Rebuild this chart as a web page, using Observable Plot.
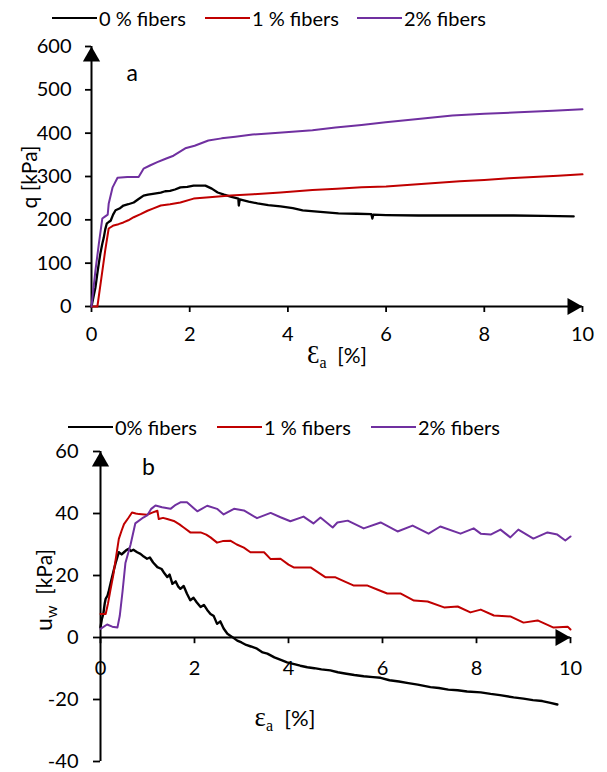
<!DOCTYPE html>
<html>
<head>
<meta charset="utf-8">
<script src="https://cdn.jsdelivr.net/npm/d3@7"></script>
<script src="https://cdn.jsdelivr.net/npm/@observablehq/plot@0.6"></script>
<style>
  html, body { margin: 0; padding: 0; background: #fff; }
  #root { position: relative; width: 607px; height: 772px; font-family: Lato, "Noto Sans", sans-serif; color: #000; }
  .legend-item { position: absolute; display: flex; align-items: center; font-size: 20px; white-space: nowrap; }
  .legend-item .sw { width: 45px; height: 2.5px; margin-right: 2px; }
  .abs { position: absolute; white-space: nowrap; }
  .serif { font-family: "Liberation Serif", "DejaVu Serif", serif; }
</style>
</head>
<body>
<div id="root"></div>
<script>
// ---------- Data ----------
const seriesNamesA = ["0 % fibers", "1 % fibers", "2% fibers"];
const seriesNamesB = ["0% fibers", "1 % fibers", "2% fibers"];
const seriesColors = ["#000000", "#C00000", "#7030A0"];

const xTicks = [0, 2, 4, 6, 8, 10];
const yTicksA = [0, 100, 200, 300, 400, 500, 600];
const yTicksB = [-40, -20, 0, 20, 40, 60];

// Panel a: deviator stress q [kPa] vs axial strain [%]
const a0x = [0, 0.04, 0.08, 0.13, 0.18, 0.22, 0.25, 0.28, 0.31, 0.35, 0.39, 0.44, 0.49, 0.57, 0.65, 0.75, 0.86, 0.96, 1.06, 1.15, 1.25, 1.41, 1.5, 1.6, 1.7, 1.81, 1.95, 2.08, 2.2, 2.32, 2.45, 2.57, 2.7, 2.85, 2.99, 3.0, 3.02, 3.2, 3.38, 3.6, 3.85, 4.1, 4.3, 4.6, 5.03, 5.4, 5.7, 5.72, 5.74, 6.0, 6.66, 7.3, 8.02, 8.6, 9.2, 9.82];
const a0y = [0, 22, 44, 85, 122, 145, 159, 178, 191, 195, 198, 212, 222, 226, 233, 236, 240, 248, 256, 258, 260, 263, 266, 267, 270, 275, 276, 279, 279, 279, 272, 263, 258, 253, 249, 233, 247, 242, 238, 234, 231, 227, 222, 219, 215, 214, 213, 203, 212, 211, 210, 210, 210, 210, 209, 208];

const a1x = [0, 0.04, 0.12, 0.2, 0.28, 0.35, 0.45, 0.55, 0.65, 0.75, 0.86, 1.0, 1.14, 1.25, 1.41, 1.6, 1.81, 2.08, 2.4, 2.83, 3.3, 3.85, 4.5, 5.0, 5.5, 6.0, 6.5, 7.0, 7.5, 8.0, 8.5, 9.0, 9.5, 10.0];
const a1y = [0, 0, 0, 65, 130, 180, 187, 190, 194, 199, 206, 213, 221, 226, 233, 236, 240, 249, 252, 256, 259, 263, 269, 272, 275, 277, 281, 285, 289, 292, 296, 299, 302, 305];

const a2x = [0, 0.08, 0.15, 0.22, 0.28, 0.33, 0.35, 0.43, 0.53, 0.73, 0.96, 1.06, 1.2, 1.34, 1.51, 1.67, 1.91, 2.1, 2.38, 2.65, 2.93, 3.28, 3.6, 3.95, 4.5, 4.97, 5.5, 5.99, 6.7, 7.35, 8.0, 8.7, 9.4, 10.0];
const a2y = [0, 83, 145, 203, 208, 212, 237, 275, 297, 299, 299, 318, 326, 333, 341, 348, 365, 371, 383, 388, 392, 397, 399, 402, 407, 413, 419, 425, 433, 441, 445, 448, 452, 455];

// Panel b: pore water pressure u_w [kPa] vs axial strain [%]
const b0x = [0, 0.03, 0.06, 0.09, 0.11, 0.15, 0.18, 0.23, 0.28, 0.33, 0.39, 0.45, 0.5, 0.55, 0.6, 0.65, 0.7, 0.78, 0.85, 0.92, 0.99, 1.05, 1.12, 1.21, 1.3, 1.36, 1.42, 1.47, 1.53, 1.6, 1.65, 1.7, 1.77, 1.84, 1.91, 1.98, 2.05, 2.13, 2.2, 2.27, 2.34, 2.41, 2.48, 2.55, 2.62, 2.7, 2.8, 2.91, 3.0, 3.1, 3.2, 3.33, 3.45, 3.55, 3.7, 3.85, 3.97, 4.1, 4.25, 4.4, 4.55, 4.7, 4.89, 5.05, 5.2, 5.4, 5.6, 5.8, 5.96, 6.15, 6.35, 6.55, 6.75, 7.02, 7.2, 7.4, 7.6, 7.8, 8.09, 8.3, 8.5, 8.79, 9.0, 9.2, 9.4, 9.55, 9.72];
const b0y = [3.3, 6, 7.6, 11, 12.5, 13.5, 15.2, 18.5, 21.6, 24.5, 27.5, 26.8, 27.5, 28.2, 28.6, 27.9, 28.3, 27.5, 27, 26.1, 25.4, 25.8, 24.2, 22.7, 22.1, 20.7, 19.5, 20.3, 17.3, 18.1, 16.5, 15.7, 16.6, 14.1, 12, 12.8, 11.3, 9.8, 10.5, 8.9, 7.6, 6.9, 4.4, 5.2, 2.9, 1.2, 0.2, -1, -1.6, -2.4, -2.9, -3.6, -4.8, -5.2, -6.4, -7.3, -8, -8.5, -9.1, -9.6, -9.9, -10.3, -10.6, -11.2, -11.6, -12.1, -12.5, -12.8, -13, -13.8, -14.2, -14.7, -15.2, -16, -16.3, -16.8, -17, -17.4, -17.7, -18.2, -18.6, -19.3, -19.7, -20.2, -20.5, -21, -21.6];

const b1x = [0, 0.11, 0.16, 0.21, 0.27, 0.32, 0.39, 0.45, 0.5, 0.6, 0.67, 0.75, 0.82, 0.99, 1.1, 1.21, 1.24, 1.33, 1.42, 1.56, 1.68, 1.77, 1.91, 2.13, 2.25, 2.34, 2.48, 2.6, 2.77, 2.9, 3.05, 3.19, 3.48, 3.62, 3.83, 4.0, 4.11, 4.47, 4.79, 5.0, 5.2, 5.38, 5.67, 5.9, 6.1, 6.38, 6.67, 6.96, 7.31, 7.6, 7.87, 8.09, 8.37, 8.72, 9.0, 9.3, 9.64, 9.94, 10.0];
const b1y = [7.6, 7.6, 11, 15.2, 20, 24.9, 31.8, 34.5, 36.6, 38.7, 40.3, 40, 39.8, 39.6, 40.3, 40.9, 38.2, 38.6, 38.2, 37.6, 36.5, 35.5, 33.9, 33.9, 33.2, 32.3, 30.6, 31.1, 31.2, 30, 29, 27.5, 27.5, 25.3, 25.4, 23.5, 22.6, 22.6, 19.4, 19.4, 18, 16.8, 16.8, 15.4, 14.2, 14.2, 11.9, 11.6, 9.7, 10, 8.1, 9, 7.1, 6.8, 4.8, 5.5, 3.2, 3.5, 2.6];

const b2x = [0, 0.14, 0.25, 0.36, 0.41, 0.47, 0.53, 0.64, 0.74, 0.91, 1.0, 1.08, 1.17, 1.31, 1.49, 1.6, 1.7, 1.84, 2.06, 2.27, 2.48, 2.62, 2.84, 3.05, 3.33, 3.62, 3.83, 4.04, 4.32, 4.53, 4.68, 4.94, 5.04, 5.26, 5.6, 5.96, 6.32, 6.64, 6.98, 7.23, 7.66, 7.94, 8.09, 8.3, 8.51, 8.72, 8.89, 9.21, 9.51, 9.72, 9.89, 10.0];
const b2y = [2.8, 4.2, 3.5, 3.2, 7, 15, 24, 30, 36.8, 38.7, 39.5, 41.5, 42.6, 42, 41.5, 42.8, 43.6, 43.6, 40.7, 42.5, 41.5, 39.7, 41.5, 41, 38.5, 40.2, 38.8, 37.5, 39, 36.8, 38.7, 35.5, 37.1, 37.7, 35.2, 37.1, 34.2, 36.1, 33.5, 35.8, 33.5, 35.2, 33.5, 33.2, 34.8, 32.3, 34.8, 31.9, 33.9, 33.2, 31.3, 32.6];

// ---------- Build tables ----------
const toRows = (xs, ys, s) => xs.map((x, i) => ({x, y: ys[i], s}));
const dataA = [toRows(a0x, a0y, 0), toRows(a1x, a1y, 1), toRows(a2x, a2y, 2)];
const dataB = [toRows(b0x, b0y, 0), toRows(b1x, b1y, 1), toRows(b2x, b2y, 2)];

const root = document.getElementById("root");
const commonStyle = {fontFamily: "Lato, 'Noto Sans', sans-serif", fontSize: "20px", color: "#000", background: "transparent", overflow: "visible"};
const fmt = d => String(d);

// ---------- Panel a ----------
const plotA = Plot.plot({
  width: 607, height: 374,
  marginTop: 10, marginBottom: 104, marginLeft: 91, marginRight: 25,
  style: commonStyle,
  x: {domain: [0, 10]},
  y: {domain: [0, 600]},
  marks: [
    Plot.axisY({ticks: yTicksA, tickFormat: fmt, tickSize: 6, tickPadding: 14, label: null, strokeWidth: 1.8}),
    Plot.axisX({ticks: xTicks, tickFormat: fmt, tickSize: 6, tickPadding: 14, label: null, strokeWidth: 1.8}),
    Plot.ruleX([0], {strokeWidth: 2}),
    Plot.ruleY([0], {strokeWidth: 2}),
    ...dataA.map((d, i) => Plot.line(d, {x: "x", y: "y", stroke: seriesColors[i], strokeWidth: i === 0 ? 2.3 : 2})),
    Plot.dot([{x: 0, y: 600}], {x: "x", y: "y", symbol: "triangle", r: 6.4, fill: "#000", stroke: null, dy: 10}),
    Plot.dot([{x: 10, y: 0}], {x: "x", y: "y", symbol: "triangle", r: 6.4, fill: "#000", stroke: null, rotate: 90, dx: -10}),
    Plot.text([{x: 0.83, y: 538, t: "a"}], {x: "x", y: "y", text: "t", fontSize: 23})
  ]
});
plotA.style.position = "absolute";
plotA.style.left = "0px";
plotA.style.top = "36px";
root.appendChild(plotA);

// ---------- Panel b ----------
const plotB = Plot.plot({
  width: 607, height: 328,
  marginTop: 7, marginBottom: 11, marginLeft: 100, marginRight: 37,
  style: commonStyle,
  x: {domain: [0, 10], axis: null},
  y: {domain: [-40, 60]},
  marks: [
    Plot.axisY({ticks: yTicksB, tickFormat: fmt, tickSize: 7, tickPadding: 15, label: null, strokeWidth: 1.8}),
    Plot.ruleX(xTicks, {x: d => d, y1: 0, y2: -2, strokeWidth: 1.8}),
    Plot.text(xTicks, {x: d => d, y: 0, text: fmt, dy: 31}),
    Plot.ruleX([0], {strokeWidth: 2}),
    Plot.ruleY([0], {strokeWidth: 2}),
    ...dataB.map((d, i) => Plot.line(d, {x: "x", y: "y", stroke: seriesColors[i], strokeWidth: i === 0 ? 2.4 : 2})),
    Plot.dot([{x: 0, y: 60}], {x: "x", y: "y", symbol: "triangle", r: 6.4, fill: "#000", stroke: null, dy: 10}),
    Plot.dot([{x: 10, y: 0}], {x: "x", y: "y", symbol: "triangle", r: 6.4, fill: "#000", stroke: null, rotate: 90, dx: -10}),
    Plot.text([{x: 1.02, y: 54.8, t: "b"}], {x: "x", y: "y", text: "t", fontSize: 23})
  ]
});
plotB.style.position = "absolute";
plotB.style.left = "0px";
plotB.style.top = "444px";
root.appendChild(plotB);

// ---------- Legends ----------
function legend(names, lefts, cy) {
  names.forEach((n, i) => {
    const el = document.createElement("div");
    el.className = "legend-item";
    el.style.left = lefts[i] + "px";
    el.style.top = (cy - 12) + "px";
    el.style.height = "24px";
    el.innerHTML = `<span class="sw" style="background:${seriesColors[i]}"></span><span>${n}</span>`;
    root.appendChild(el);
  });
}
legend(seriesNamesA, [52, 205, 357], 18);
legend(seriesNamesB, [68, 217, 371], 427);

// ---------- Axis titles ----------
function addAbs(html, cx, cy, rotate) {
  const el = document.createElement("div");
  el.className = "abs";
  el.innerHTML = html;
  el.style.left = cx + "px";
  el.style.top = cy + "px";
  el.style.transform = `translate(-50%, -50%)${rotate ? " rotate(-90deg)" : ""}`;
  root.appendChild(el);
}
addAbs(`<span style="font-size:21px">q [kPa]</span>`, 28, 177, true);
addAbs(`<span style="font-size:23px">u</span><sub style="font-size:16px;vertical-align:-5px">w</sub><span style="font-size:21px">&nbsp; [kPa]</span>`, 44, 590, true);
addAbs(`<span class="serif" style="font-size:25px">\u0190</span><sub class="serif" style="font-size:16px;vertical-align:-5px">a</sub><span style="font-size:21px">&nbsp; [%]</span>`, 337, 356, false);
addAbs(`<span class="serif" style="font-size:27px">\u03B5</span><sub class="serif" style="font-size:16px;vertical-align:-5px">a</sub><span style="font-size:22px">&nbsp; [%]</span>`, 285, 718, false);
</script>
</body>
</html>
